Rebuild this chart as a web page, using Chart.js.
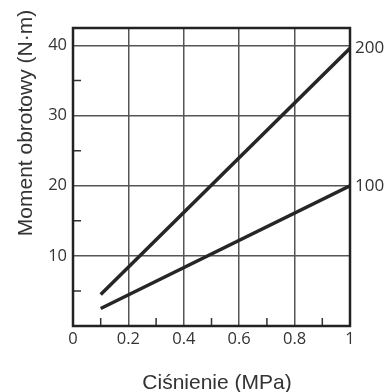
<!DOCTYPE html>
<html>
<head>
<meta charset="utf-8">
<script src="https://cdn.jsdelivr.net/npm/chart.js@4/dist/chart.umd.min.js"></script>
<style>
html,body{margin:0;padding:0;background:#fff;}
#wrap{width:387px;height:392px;}
</style>
</head>
<body>
<div id="wrap"><canvas id="c" width="387" height="392"></canvas></div>
<script>
// Data
const pressure = [0.1, 1.0];           // MPa
const torque200 = [4.5, 39.6];         // N·m
const torque100 = [2.5, 20.0];         // N·m
const seriesLabels = ['200', '100'];
const xMajorTicks = [0, 0.2, 0.4, 0.6, 0.8, 1];
const yMajorTicks = [10, 20, 30, 40];
const xMinorTicks = [0.1, 0.3, 0.5, 0.7, 0.9];
const yMinorTicks = [5, 15, 25, 35];
const xTitle = 'Ciśnienie (MPa)';
const yTitle = 'Moment obrotowy (N·m)';

const FONT = "'Open Sans', 'DejaVu Sans', sans-serif";
const TITLE_FONT = "21px 'Liberation Sans', Arial, sans-serif";
const TEXT = '#333333';

const minorAndFrame = {
  id: 'minorAndFrame',
  afterDatasetsDraw(chart) {
    const {ctx, chartArea: a, scales: {x, y}} = chart;
    ctx.save();
    ctx.strokeStyle = '#333333';
    ctx.lineWidth = 1.5;
    ctx.beginPath();
    xMinorTicks.forEach(v => {
      const px = x.getPixelForValue(v);
      ctx.moveTo(px, a.bottom);
      ctx.lineTo(px, a.bottom - 8);
    });
    yMinorTicks.forEach(v => {
      const py = y.getPixelForValue(v);
      ctx.moveTo(a.left, py);
      ctx.lineTo(a.left + 8, py);
    });
    ctx.stroke();
    ctx.strokeStyle = '#222222';
    ctx.lineWidth = 2.5;
    ctx.strokeRect(a.left, a.top, a.right - a.left, a.bottom - a.top);
    ctx.restore();
  },
  afterDraw(chart) {
    const {ctx, chartArea: a} = chart;
    ctx.save();
    ctx.fillStyle = TEXT;
    ctx.font = TITLE_FONT;
    ctx.textAlign = 'center';
    ctx.textBaseline = 'alphabetic';
    ctx.fillText(xTitle, (a.left + a.right) / 2 + 5.5, chart.height - 3);
    ctx.translate(31.5, a.top + 95);
    ctx.rotate(-Math.PI / 2);
    ctx.fillText(yTitle, 0, 0);
    ctx.restore();
  }
};

new Chart(document.getElementById('c'), {
  type: 'line',
  data: {
    datasets: [
      {label: seriesLabels[0], data: pressure.map((p, i) => ({x: p, y: torque200[i]}))},
      {label: seriesLabels[1], data: pressure.map((p, i) => ({x: p, y: torque100[i]}))}
    ]
  },
  options: {
    responsive: false,
    animation: false,
    devicePixelRatio: 1,
    layout: {padding: {top: 28, left: 0, right: 0, bottom: 0}},
    elements: {
      line: {borderColor: '#262626', borderWidth: 3.5, borderCapStyle: 'butt', tension: 0},
      point: {radius: 0}
    },
    plugins: {legend: {display: false}, tooltip: {enabled: false}},
    scales: {
      x: {
        type: 'linear', min: 0, max: 1,
        afterBuildTicks: s => { s.ticks = xMajorTicks.map(v => ({value: v})); },
        afterFit: s => { s.height = 66; },
        ticks: {
          color: TEXT, font: {family: FONT, size: 16.5}, padding: 3, maxRotation: 0,
          callback: v => String(Math.round(v * 10) / 10)
        },
        grid: {
          drawTicks: false, lineWidth: 1.5,
          color: c => (c.tick && (c.tick.value === 0 || c.tick.value === 1)) ? 'rgba(0,0,0,0)' : '#555555'
        },
        border: {display: false},
        title: {display: false}
      },
      y: {
        type: 'linear', min: 0, max: 42.5, position: 'left',
        afterBuildTicks: s => { s.ticks = yMajorTicks.map(v => ({value: v})); },
        afterFit: s => { s.width = 73; },
        ticks: {color: TEXT, font: {family: FONT, size: 16.5}, padding: 6},
        grid: {drawTicks: false, lineWidth: 1.5, color: '#555555'},
        border: {display: false},
        title: {display: false}
      },
      y2: {
        type: 'linear', min: 0, max: 42.5, position: 'right',
        afterBuildTicks: s => { s.ticks = [torque200[torque200.length - 1], torque100[torque100.length - 1]].map(v => ({value: v})); },
        afterFit: s => { s.width = 37; },
        ticks: {
          color: TEXT, font: {family: FONT, size: 17}, padding: 5,
          callback: (v, i) => seriesLabels[i]
        },
        grid: {drawOnChartArea: false, drawTicks: false},
        border: {display: false}
      }
    }
  },
  plugins: [minorAndFrame]
});
</script>
</body>
</html>
